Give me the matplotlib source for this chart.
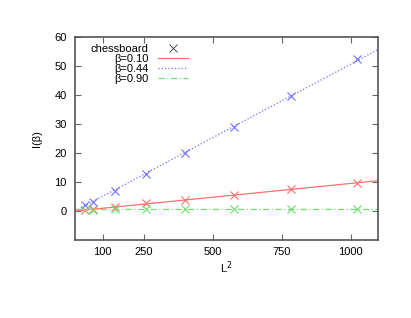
import numpy as np
import matplotlib
matplotlib.use('Agg')
from matplotlib import pyplot as plt

plt.rcParams['font.family'] = ['Liberation Sans', 'DejaVu Sans']

# lattice sizes (x = L^2)
L2 = [36, 64, 144, 256, 400, 576, 784, 1024]

# I(beta)
I_010 = [0.35, 0.6, 1.4, 2.6, 3.7, 5.6, 7.5, 9.8]
I_044 = [2.0, 3.1, 6.9, 12.6, 20.0, 29.1, 39.8, 52.4]
I_090 = [0.5, 0.5, 0.6, 0.6, 0.6, 0.6, 0.6, 0.6]

# fitted lines  I = a * L^2 + b
fit_010 = (0.0095, 0.0)
fit_044 = (0.0506, 0.0)
fit_090 = (0.0, 0.6)

labels = ['\u03b2=0.10', '\u03b2=0.44', '\u03b2=0.90']
colors = ['#ff7070', '#7070ff', '#70dd70']
styles = ['-', ':', (0, (5, 2, 1, 2))]

fig = plt.figure(figsize=(4.11, 3.18), dpi=100)
ax = fig.add_axes([0.1825, 0.2453, 0.7375, 0.6383])

xx = np.array([0, 1100])
ax.plot([], [], 'x', color='#333333', ms=6, mew=0.6, label='chessboard')
for data, fit, lab, c, ls in zip([I_010, I_044, I_090], [fit_010, fit_044, fit_090],
                                 labels, colors, styles):
    ax.plot(L2, data, 'x', color=c, ms=5.5, mew=0.8)
    ax.plot(xx, fit[0] * xx + fit[1], linestyle=ls, color=c, lw=0.9, label=lab)

ax.set_xlim(0, 1100)
ax.set_ylim(-10, 60)
ax.set_xticks([100, 250, 500, 750, 1000])
ax.set_yticks([0, 10, 20, 30, 40, 50, 60])
ax.tick_params(direction='in', top=True, right=True, length=4, width=0.8,
               color='#666666', labelsize=8)
ax.tick_params(axis='x', pad=5)
ax.tick_params(axis='y', pad=6)
for s in ax.spines.values():
    s.set_color('#555555')
    s.set_linewidth(1.2)

ax.set_xlabel('L$^2$', fontsize=8, labelpad=2)
ax.set_ylabel('I(\u03b2)', fontsize=8, labelpad=9)

ax.legend(loc='upper left', bbox_to_anchor=(0.03, 1.0), markerfirst=False,
          frameon=False, fontsize=8, handlelength=2.7, handletextpad=0.8,
          labelspacing=0.0, borderaxespad=0.2)

fig.savefig('out.png', dpi=100)
